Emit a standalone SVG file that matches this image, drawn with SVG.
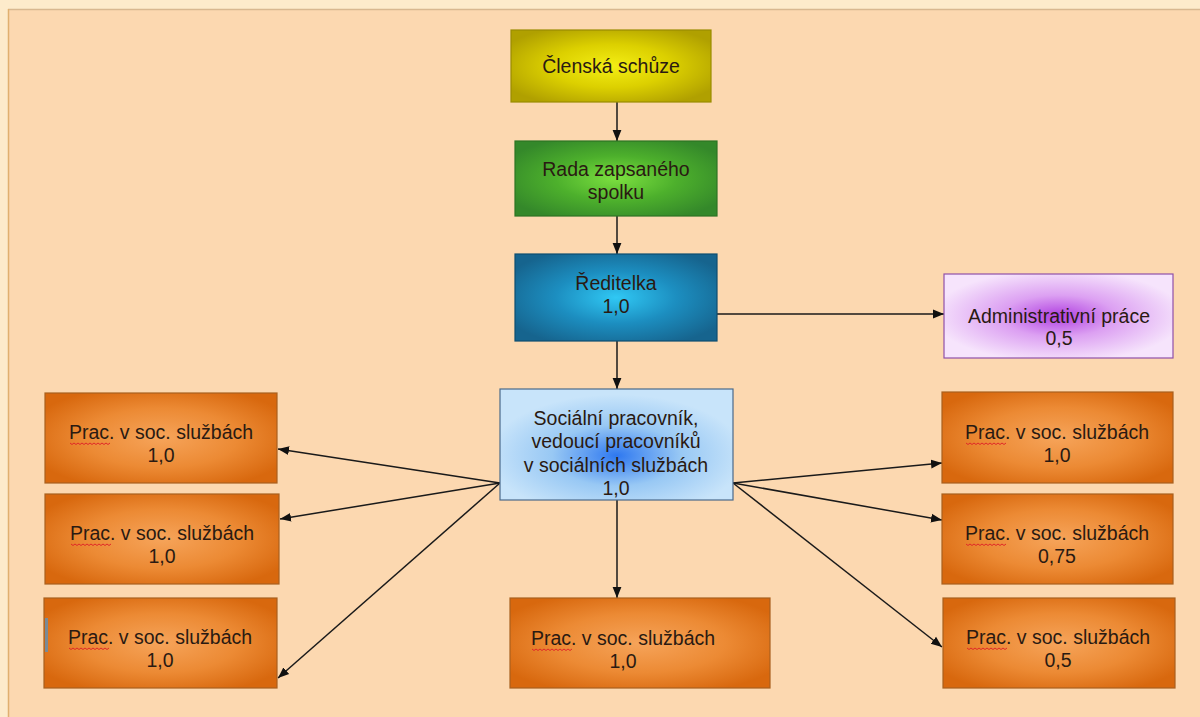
<svg xmlns="http://www.w3.org/2000/svg" width="1200" height="717" viewBox="0 0 1200 717">
<defs>
<radialGradient id="gY" cx="50%" cy="50%" r="60%"><stop offset="0" stop-color="#F4EE14"/><stop offset="0.5" stop-color="#DCD000"/><stop offset="1" stop-color="#B0A000"/></radialGradient>
<radialGradient id="gG" cx="50%" cy="50%" r="60%"><stop offset="0" stop-color="#7CE040"/><stop offset="0.5" stop-color="#4DB02C"/><stop offset="1" stop-color="#34882A"/></radialGradient>
<radialGradient id="gB" cx="50%" cy="50%" r="60%"><stop offset="0" stop-color="#30C8F4"/><stop offset="0.5" stop-color="#1C8EC0"/><stop offset="1" stop-color="#16648E"/></radialGradient>
<radialGradient id="gP" cx="50%" cy="50%" r="55%"><stop offset="0" stop-color="#B040E0"/><stop offset="0.45" stop-color="#DCA0F2"/><stop offset="1" stop-color="#F6E4FC"/></radialGradient>
<radialGradient id="gL" cx="50%" cy="60%" r="55%"><stop offset="0" stop-color="#2E78F0"/><stop offset="0.5" stop-color="#98C8F4"/><stop offset="1" stop-color="#C8E4FA"/></radialGradient>
<radialGradient id="gO" cx="50%" cy="50%" r="60%"><stop offset="0" stop-color="#F6A45A"/><stop offset="0.55" stop-color="#EC8A34"/><stop offset="1" stop-color="#D8680E"/></radialGradient>
<marker id="ah" viewBox="0 0 10 10" refX="10" refY="5" markerWidth="11" markerHeight="11" markerUnits="userSpaceOnUse" orient="auto"><path d="M0,1 L10,5 L0,9 Z" fill="#111"/></marker>
</defs>
<style>
.t{font-family:"Liberation Sans",Arial,sans-serif;font-size:19.5px;fill:#2a1a12;text-anchor:middle}
.box{stroke-width:1.2}
.o{fill:url(#gO);stroke:#A8601E}
.c{stroke:#1a1a1a;stroke-width:1.5;fill:none;marker-end:url(#ah)}
.sq{stroke:#E02828;stroke-width:1;fill:none}
</style>
<rect x="0" y="0" width="1200" height="717" fill="#FDEBCB"/>
<rect x="8" y="9" width="1192" height="708" fill="#FCD8B0"/>
<line x1="8" y1="9.5" x2="1200" y2="9.5" stroke="#D8B890" stroke-width="1.5"/>
<line x1="8.5" y1="9" x2="8.5" y2="717" stroke="#E0B070" stroke-width="1.5"/>

<g id="connectors">
<line class="c" x1="617" y1="102" x2="617" y2="141"/>
<line class="c" x1="617" y1="216" x2="617" y2="254"/>
<line class="c" x1="717" y1="314" x2="944" y2="314"/>
<line class="c" x1="617" y1="341" x2="617" y2="389"/>
<line class="c" x1="500" y1="483" x2="278" y2="449"/>
<line class="c" x1="500" y1="483" x2="280" y2="519"/>
<line class="c" x1="500" y1="483" x2="278" y2="678"/>
<line class="c" x1="617" y1="500" x2="617" y2="598"/>
<line class="c" x1="733" y1="483" x2="942" y2="463"/>
<line class="c" x1="733" y1="483" x2="942" y2="520"/>
<line class="c" x1="733" y1="483" x2="942" y2="647"/>
</g>

<g id="clenska">
<rect class="box" x="511" y="30" width="200" height="72" fill="url(#gY)" stroke="#9A8C00"/>
<text class="t" x="611" y="73">Členská schůze</text>
</g>
<g id="rada">
<rect class="box" x="515" y="141" width="202" height="75" fill="url(#gG)" stroke="#2E7424"/>
<text class="t" x="616" y="176">Rada zapsaného</text>
<text class="t" x="616" y="199">spolku</text>
</g>
<g id="reditelka">
<rect class="box" x="515" y="254" width="202" height="87" fill="url(#gB)" stroke="#0E4E70"/>
<text class="t" x="616" y="290">Ředitelka</text>
<text class="t" x="616" y="313">1,0</text>
</g>
<g id="admin">
<rect class="box" x="944" y="274" width="229" height="84" fill="url(#gP)" stroke="#9050A8"/>
<text class="t" x="1059" y="323">Administrativní práce</text>
<text class="t" x="1059" y="345">0,5</text>
</g>
<g id="socialni">
<rect class="box" x="500" y="389" width="233" height="111" fill="url(#gL)" stroke="#4A6A8A"/>
<text class="t" x="616" y="425">Sociální pracovník,</text>
<text class="t" x="616" y="448">vedoucí pracovníků</text>
<text class="t" x="616" y="472">v sociálních službách</text>
<text class="t" x="616" y="495">1,0</text>
</g>

<g id="left1">
<rect class="box o" x="45" y="393" width="232" height="90"/>
<text class="t" x="161" y="439">Prac. v soc. službách</text>
<text class="t" x="161" y="462">1,0</text>
<path class="sq" d="M70,443 l2,1.5 l2,-1.5 l2,1.5 l2,-1.5 l2,1.5 l2,-1.5 l2,1.5 l2,-1.5 l2,1.5 l2,-1.5 l2,1.5 l2,-1.5 l2,1.5 l2,-1.5 l2,1.5 l2,-1.5 l2,1.5 l2,-1.5 l2,1.5 l2,-1.5"/>
</g>
<g id="left2">
<rect class="box o" x="45" y="494" width="234" height="90"/>
<text class="t" x="162" y="540">Prac. v soc. službách</text>
<text class="t" x="162" y="563">1,0</text>
<path class="sq" d="M71,544 l2,1.5 l2,-1.5 l2,1.5 l2,-1.5 l2,1.5 l2,-1.5 l2,1.5 l2,-1.5 l2,1.5 l2,-1.5 l2,1.5 l2,-1.5 l2,1.5 l2,-1.5 l2,1.5 l2,-1.5 l2,1.5 l2,-1.5 l2,1.5 l2,-1.5"/>
</g>
<g id="left3">
<rect class="box o" x="44" y="598" width="233" height="90"/>
<rect x="45" y="618" width="3" height="34" fill="#7A8A96"/>
<text class="t" x="160" y="644">Prac. v soc. službách</text>
<text class="t" x="160" y="667">1,0</text>
<path class="sq" d="M69,648 l2,1.5 l2,-1.5 l2,1.5 l2,-1.5 l2,1.5 l2,-1.5 l2,1.5 l2,-1.5 l2,1.5 l2,-1.5 l2,1.5 l2,-1.5 l2,1.5 l2,-1.5 l2,1.5 l2,-1.5 l2,1.5 l2,-1.5 l2,1.5 l2,-1.5"/>
</g>
<g id="bottom">
<rect class="box o" x="510" y="598" width="260" height="90"/>
<text class="t" x="623" y="645">Prac. v soc. službách</text>
<text class="t" x="623" y="668">1,0</text>
<path class="sq" d="M532,649 l2,1.5 l2,-1.5 l2,1.5 l2,-1.5 l2,1.5 l2,-1.5 l2,1.5 l2,-1.5 l2,1.5 l2,-1.5 l2,1.5 l2,-1.5 l2,1.5 l2,-1.5 l2,1.5 l2,-1.5 l2,1.5 l2,-1.5 l2,1.5 l2,-1.5"/>
</g>
<g id="right1">
<rect class="box o" x="942" y="392" width="231" height="91"/>
<text class="t" x="1057" y="439">Prac. v soc. službách</text>
<text class="t" x="1057" y="462">1,0</text>
<path class="sq" d="M966,443 l2,1.5 l2,-1.5 l2,1.5 l2,-1.5 l2,1.5 l2,-1.5 l2,1.5 l2,-1.5 l2,1.5 l2,-1.5 l2,1.5 l2,-1.5 l2,1.5 l2,-1.5 l2,1.5 l2,-1.5 l2,1.5 l2,-1.5 l2,1.5 l2,-1.5"/>
</g>
<g id="right2">
<rect class="box o" x="942" y="494" width="231" height="90"/>
<text class="t" x="1057" y="540">Prac. v soc. službách</text>
<text class="t" x="1057" y="563">0,75</text>
<path class="sq" d="M966,544 l2,1.5 l2,-1.5 l2,1.5 l2,-1.5 l2,1.5 l2,-1.5 l2,1.5 l2,-1.5 l2,1.5 l2,-1.5 l2,1.5 l2,-1.5 l2,1.5 l2,-1.5 l2,1.5 l2,-1.5 l2,1.5 l2,-1.5 l2,1.5 l2,-1.5"/>
</g>
<g id="right3">
<rect class="box o" x="943" y="598" width="232" height="90"/>
<text class="t" x="1058" y="644">Prac. v soc. službách</text>
<text class="t" x="1058" y="667">0,5</text>
<path class="sq" d="M967,648 l2,1.5 l2,-1.5 l2,1.5 l2,-1.5 l2,1.5 l2,-1.5 l2,1.5 l2,-1.5 l2,1.5 l2,-1.5 l2,1.5 l2,-1.5 l2,1.5 l2,-1.5 l2,1.5 l2,-1.5 l2,1.5 l2,-1.5 l2,1.5 l2,-1.5"/>
</g>
</svg>
